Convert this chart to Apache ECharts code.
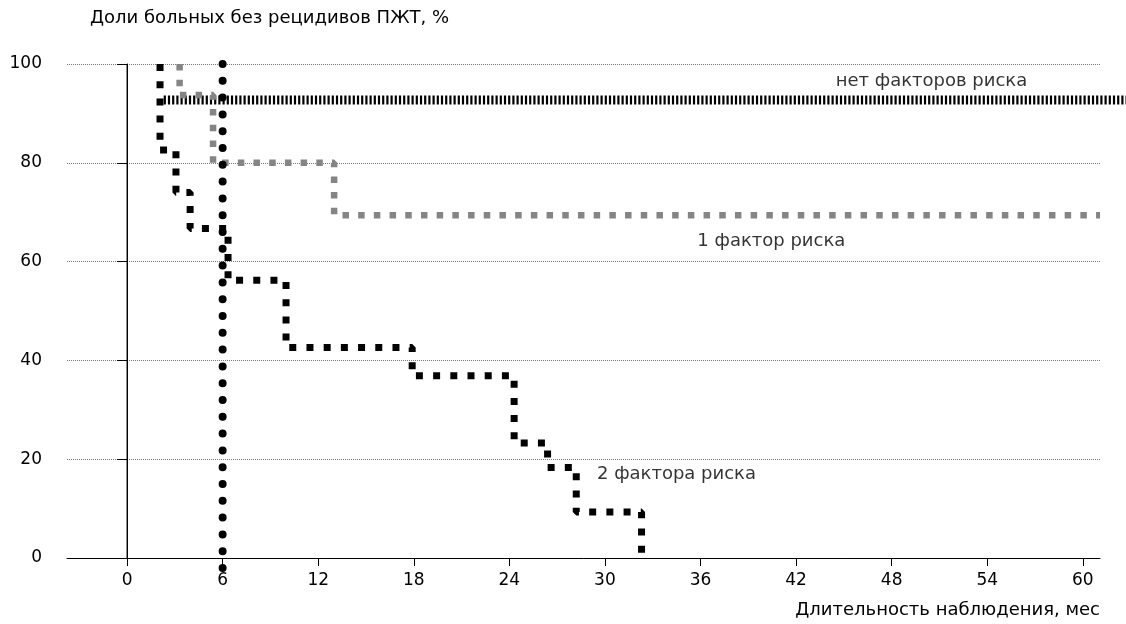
<!DOCTYPE html>
<html>
<head>
<meta charset="utf-8">
<script src="https://cdn.jsdelivr.net/npm/echarts@6/dist/echarts.min.js"></script>
<style>
  html, body { margin: 0; padding: 0; background: #fff; }
  #chart { width: 1126px; height: 624px; }
</style>
</head>
<body>
<div id="chart"></div>
<script>
const monthTicks = [0, 6, 12, 18, 24, 30, 36, 42, 48, 54, 60]
const percentTicks = [0, 20, 40, 60, 80, 100]

// нет факторов риска (линия уходит за край оси)
const noRiskMonths = [2.3, 62.7]
const noRiskValues = [92.7, 92.7]

// 1 фактор риска
const oneRiskMonths = [3.3, 3.3, 5.4, 13.0, 61.08]
const oneRiskValues = [100, 93.7, 80, 69.4, 69.4]

// 2 фактора риска
const twoRiskMonths = [2.07, 2.07, 3.07, 3.96, 6.34, 9.98, 17.9, 24.3, 26.4, 28.2, 32.3]
const twoRiskValues = [100, 82.6, 74.0, 66.7, 56.2, 42.6, 36.9, 23.3, 18.3, 9.3, 0]

// отметка 6 мес
const markMonths = [6, 6]
const markValues = [100, -3]

// подписи кривых
const curveNames = ['нет факторов риска', '1 фактор риска', '2 фактора риска']
const curveLabelMonths = [50.5, 35.8, 29.5]
const curveLabelValues = [96.4, 64.1, 16.9]

const FONT = '"DejaVu Sans", "Liberation Sans", sans-serif'
const X_MIN = -3.77
const X_MAX = 61.08
const X_MAX_WIDE = 62.7
const zip = (xs, ys) => xs.map((x, i) => [x, ys[i]])

const chart = echarts.init(document.getElementById('chart'))

chart.setOption({
  animation: false,
  textStyle: { fontFamily: FONT },
  grid: [
    { left: 67, right: 26, top: 64, bottom: 66 },
    // тот же масштаб, но до правого края — для линии "нет факторов риска"
    { left: 67, right: 0, top: 64, bottom: 66 }
  ],
  xAxis: [
    {
      type: 'value',
      gridIndex: 0,
      min: X_MIN,
      max: X_MAX,
      axisLine: { onZero: false, lineStyle: { color: '#000', width: 1 } },
      axisTick: { show: true, customValues: monthTicks, length: 8, lineStyle: { color: '#000' } },
      axisLabel: { customValues: monthTicks, color: '#000', fontSize: 17, margin: 14, fontFamily: FONT },
      splitLine: { show: false }
    },
    {
      type: 'value',
      gridIndex: 1,
      min: X_MIN,
      max: X_MAX_WIDE,
      show: false
    }
  ],
  yAxis: [
    {
      type: 'value',
      gridIndex: 0,
      min: 0,
      max: 100,
      interval: 20,
      axisLine: { show: true, lineStyle: { color: '#000', width: 1 } },
      axisTick: { show: true, length: 10, lineStyle: { color: '#000' } },
      axisLabel: { color: '#000', fontSize: 17, margin: 25, fontFamily: FONT },
      splitLine: { show: true, lineStyle: { color: '#777', width: 1, type: [1, 1] } }
    },
    {
      type: 'value',
      gridIndex: 1,
      min: 0,
      max: 100,
      show: false
    }
  ],
  graphic: [
    {
      type: 'text', left: 90, top: 9,
      style: { text: 'Доли больных без рецидивов ПЖТ, %', font: '18px ' + FONT, fill: '#000' }
    },
    {
      type: 'text', right: 26, top: 601,
      style: { text: 'Длительность наблюдения, мес', font: '18px ' + FONT, fill: '#000' }
    }
  ],
  series: [
    {
      name: 'ноль',
      type: 'line',
      data: [[0, 0], [0, 100]],
      symbol: 'none',
      lineStyle: { color: '#000', width: 1 }
    },
    {
      name: curveNames[0],
      type: 'line',
      xAxisIndex: 1,
      yAxisIndex: 1,
      data: zip(noRiskMonths, noRiskValues),
      symbol: 'none',
      lineStyle: { color: '#000', width: 9, type: [2.2, 2] }
    },
    {
      name: curveNames[1],
      type: 'line',
      step: 'end',
      data: zip(oneRiskMonths, oneRiskValues),
      symbol: 'none',
      lineStyle: { color: '#858585', width: 6.5, type: [6.5, 9.2] }
    },
    {
      name: curveNames[2],
      type: 'line',
      step: 'end',
      data: zip(twoRiskMonths, twoRiskValues),
      symbol: 'none',
      lineStyle: { color: '#000', width: 7, type: [7, 10.2] }
    },
    {
      name: '6 мес',
      type: 'line',
      data: zip(markMonths, markValues),
      symbol: 'none',
      clip: false,
      lineStyle: { color: '#000', width: 8, type: [0, 16.8], cap: 'round' }
    },
    {
      name: 'подписи',
      type: 'scatter',
      symbolSize: 0,
      silent: true,
      itemStyle: { color: '#000' },
      data: curveNames.map((n, i) => ({
        name: n,
        value: [curveLabelMonths[i], curveLabelValues[i]],
        label: {
          position: i === 0 ? 'inside' : 'right',
          distance: 0,
          color: '#000',
          textBorderWidth: 0
        }
      })),
      label: {
        show: true,
        formatter: p => p.name,
        color: '#000',
        fontSize: 18,
        fontFamily: FONT
      }
    }
  ]
})
</script>
</body>
</html>
